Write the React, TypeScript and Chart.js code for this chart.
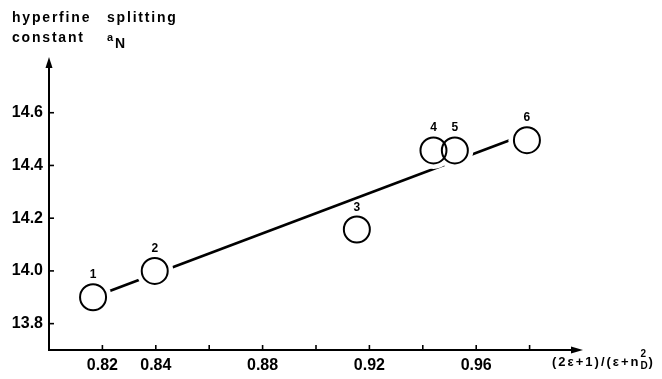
import React, { useEffect, useRef } from 'react';
import { Chart, registerables } from 'chart.js';

Chart.register(...registerables);

// ---- data ----
const POINT_LABELS = ['1', '2', '3', '4', '5', '6'];
const X_VALUES = [0.8165, 0.8396, 0.9153, 0.944, 0.952, 0.979];
const Y_VALUES = [13.9, 14.0, 14.157, 14.457, 14.457, 14.496];
const FIT_X = [0.8165, 0.979];
const FIT_Y = [13.9, 14.52];
const X_TICKS = [0.82, 0.84, 0.86, 0.88, 0.9, 0.92, 0.94, 0.96, 0.98];
const X_TICK_LABELS = ['0.82', '0.84', '', '0.88', '', '0.92', '', '0.96', ''];
const Y_TICKS = [13.8, 14.0, 14.2, 14.4, 14.6];
const Y_TICK_LABELS = ['13.8', '14.0', '14.2', '14.4', '14.6'];
const X_MIN = 0.8;
const X_MAX = 1.0;
const Y_MIN = 13.7;
const Y_MAX = 14.8;

const FONT = '"Liberation Sans", Arial, sans-serif';

function labelFor(ticks: number[], labels: string[], v: number) {
  const i = ticks.findIndex((t) => Math.abs(t - v) < 1e-9);
  return i >= 0 ? labels[i] : '';
}

const decorPlugin = {
  id: 'decor',
  afterDraw(chart: any) {
    const ctx = chart.ctx as CanvasRenderingContext2D;
    const xs = chart.scales.x;
    const ys = chart.scales.y;
    const x0 = xs.getPixelForValue(X_MIN);
    const y0 = ys.getPixelForValue(Y_MIN);
    const xEnd = xs.getPixelForValue(X_MAX);
    const yEnd = ys.getPixelForValue(Y_MAX) - 3;
    ctx.save();
    ctx.strokeStyle = '#000';
    ctx.fillStyle = '#000';
    ctx.lineWidth = 2;
    ctx.lineCap = 'butt';
    // y axis
    ctx.beginPath();
    ctx.moveTo(x0, y0 + 1);
    ctx.lineTo(x0, yEnd + 8);
    ctx.stroke();
    ctx.beginPath();
    ctx.moveTo(x0, yEnd);
    ctx.lineTo(x0 - 3.5, yEnd + 11);
    ctx.lineTo(x0 + 3.5, yEnd + 11);
    ctx.closePath();
    ctx.fill();
    // x axis
    ctx.beginPath();
    ctx.moveTo(x0 - 1, y0);
    ctx.lineTo(xEnd - 8, y0);
    ctx.stroke();
    ctx.beginPath();
    ctx.moveTo(xEnd, y0);
    ctx.lineTo(xEnd - 12, y0 - 3.5);
    ctx.lineTo(xEnd - 12, y0 + 3.5);
    ctx.closePath();
    ctx.fill();
    // inward ticks
    ctx.lineWidth = 1.6;
    X_TICKS.forEach((v) => {
      const px = xs.getPixelForValue(v);
      ctx.beginPath();
      ctx.moveTo(px, y0);
      ctx.lineTo(px, y0 - 5);
      ctx.stroke();
    });
    Y_TICKS.forEach((v) => {
      const py = ys.getPixelForValue(v);
      ctx.beginPath();
      ctx.moveTo(x0, py);
      ctx.lineTo(x0 + 5, py);
      ctx.stroke();
    });

    // point number labels
    const meta = chart.getDatasetMeta(2);
    ctx.font = `bold 12px ${FONT}`;
    ctx.textAlign = 'center';
    ctx.textBaseline = 'alphabetic';
    meta.data.forEach((el: any, i: number) => {
      ctx.fillText(POINT_LABELS[i], el.x, el.y - 19);
    });

    // title
    ctx.textAlign = 'left';
    ctx.font = `bold 14px ${FONT}`;
    (ctx as any).letterSpacing = '1.8px';
    ctx.fillText('hyperfine', 12, 22);
    ctx.fillText('splitting', 107, 22);
    ctx.fillText('constant', 12, 42);
    ctx.font = `bold 11px ${FONT}`;
    (ctx as any).letterSpacing = '0px';
    ctx.fillText('a', 107, 41);
    ctx.font = `bold 14px ${FONT}`;
    ctx.fillText('N', 115, 48);

    // x-axis title
    ctx.font = `bold 13px ${FONT}`;
    (ctx as any).letterSpacing = '2px';
    const main = '(2ε+1)/(ε+n';
    const bx = 552;
    ctx.fillText(main, bx, 366);
    const w = ctx.measureText(main).width;
    ctx.font = `bold 10px ${FONT}`;
    (ctx as any).letterSpacing = '0px';
    ctx.fillText('2', bx + w, 357);
    ctx.fillText('D', bx + w, 369);
    ctx.font = `bold 13px ${FONT}`;
    ctx.fillText(')', bx + w + 8, 366);
    ctx.restore();
  },
};

export default function App() {
  const ref = useRef<HTMLCanvasElement | null>(null);
  useEffect(() => {
    if (!ref.current) return;
    const points = X_VALUES.map((x, i) => ({ x, y: Y_VALUES[i] }));
    const fit = FIT_X.map((x, i) => ({ x, y: FIT_Y[i] }));
    const chart = new Chart(ref.current, {
      type: 'scatter',
      data: {
        datasets: [
          {
            type: 'line',
            data: fit,
            borderColor: '#000',
            borderWidth: 2.6,
            pointRadius: 0,
            fill: false,
            order: 2,
          } as any,
          {
            data: points,
            pointRadius: 18.5,
            pointBackgroundColor: '#fff',
            pointBorderWidth: 0,
            pointBorderColor: 'rgba(0,0,0,0)',
            order: 1,
          },
          {
            data: points,
            pointRadius: 13,
            pointBackgroundColor: 'rgba(0,0,0,0)',
            pointBorderColor: '#000',
            pointBorderWidth: 2,
            order: 0,
          },
        ],
      },
      options: {
        animation: false,
        responsive: true,
        maintainAspectRatio: false,
        layout: { padding: { top: 60, right: 79, left: 0, bottom: 0 } },
        plugins: { legend: { display: false }, tooltip: { enabled: false } },
        events: [],
        scales: {
          x: {
            type: 'linear',
            min: X_MIN,
            max: X_MAX,
            afterBuildTicks: (s: any) => {
              s.ticks = X_TICKS.map((v) => ({ value: v }));
            },
            afterFit: (s: any) => {
              s.height = 29;
            },
            grid: { display: false, drawTicks: false },
            border: { display: false },
            ticks: {
              autoSkip: false,
              maxRotation: 0,
              padding: 6,
              color: '#000',
              font: { family: FONT, weight: 'bold', size: 16 },
              callback: (v: any) => labelFor(X_TICKS, X_TICK_LABELS, Number(v)),
            },
          },
          y: {
            type: 'linear',
            min: Y_MIN,
            max: Y_MAX,
            afterBuildTicks: (s: any) => {
              s.ticks = Y_TICKS.map((v) => ({ value: v }));
            },
            afterFit: (s: any) => {
              s.width = 49;
            },
            grid: { display: false, drawTicks: false },
            border: { display: false },
            ticks: {
              autoSkip: false,
              padding: 6,
              color: '#000',
              font: { family: FONT, weight: 'bold', size: 16 },
              callback: (v: any) => labelFor(Y_TICKS, Y_TICK_LABELS, Number(v)),
            },
          },
        },
      } as any,
      plugins: [decorPlugin],
    });
    return () => chart.destroy();
  }, []);
  return (
    <div style={{ position: 'absolute', left: 0, top: 0, width: 662, height: 379, background: '#fff' }}>
      <canvas ref={ref} />
    </div>
  );
}
